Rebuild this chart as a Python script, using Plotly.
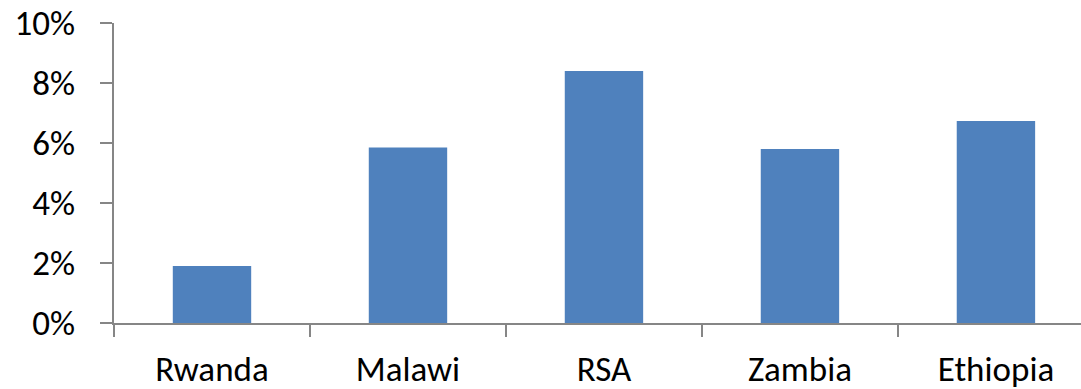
import plotly.graph_objects as go

countries = ["Rwanda", "Malawi", "RSA", "Zambia", "Ethiopia"]
values = [1.9, 5.85, 8.4, 5.8, 6.73]
y_ticks = [0, 2, 4, 6, 8, 10]
y_tick_labels = ["0%", "2%", "4%", "6%", "8%", "10%"]

font_family = "Calibri, Carlito, Lato, sans-serif"
axis_color = "#868686"

fig = go.Figure(go.Bar(
    x=countries, y=values, width=0.4,
    marker=dict(color="#4F81BD", line=dict(width=0)),
))

fig.update_layout(
    width=1081, height=389,
    margin=dict(l=114, r=0, t=23, b=66),
    paper_bgcolor="white", plot_bgcolor="white",
    showlegend=False,
    font=dict(family=font_family, size=35, color="black"),
)
fig.update_xaxes(
    type="category",
    range=[-0.5, 4.434],
    showline=True, linecolor=axis_color, linewidth=2,
    ticks="outside", tickson="boundaries", ticklen=12, tickwidth=2, tickcolor=axis_color,
    showgrid=False, zeroline=False,
    ticklabelstandoff=14,
)
fig.update_yaxes(
    range=[0, 10],
    tickvals=y_ticks, ticktext=y_tick_labels,
    showline=True, linecolor=axis_color, linewidth=2,
    ticks="outside", ticklen=12, tickwidth=2, tickcolor=axis_color,
    showgrid=False, zeroline=False,
    ticklabelstandoff=18,
)

fig.write_html("out.html")
